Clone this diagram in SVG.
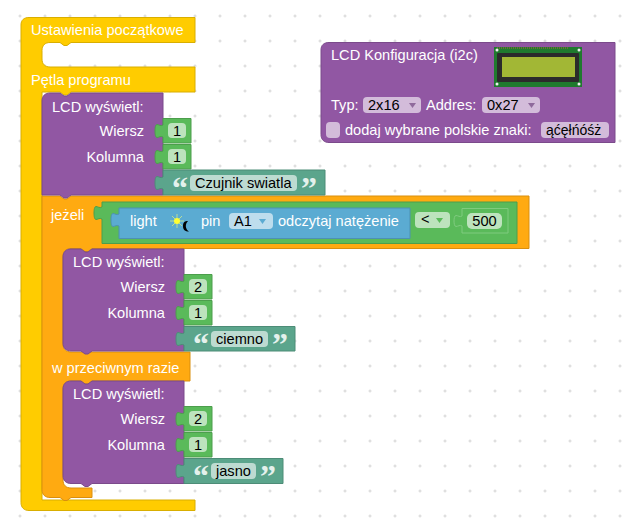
<svg xmlns="http://www.w3.org/2000/svg" width="629" height="524" viewBox="0 0 629 524">
<style>
text{font-family:"Liberation Sans",Arial,sans-serif;font-size:14.6px}
.w{fill:#fff}.k{fill:#000}.e{text-anchor:end}.m{text-anchor:middle}
.yl{fill:#fc0;stroke:#d9ae00;stroke-width:1}
.or{fill:#fa1;stroke:#d98f0e;stroke-width:1}
.pu{fill:#9157a3;stroke:#7b4a8b;stroke-width:1}
.gr{fill:#5aba5a;stroke:#4c9e4c;stroke-width:1}
.tl{fill:#5ba58c;stroke:#4d8c77;stroke-width:1}
.bl{fill:#5babd2;stroke:#4d91b3;stroke-width:1}
.f1{fill:#bde3bd}.f2{fill:#bddbd1}.f3{fill:#bddded}.f4{fill:#d3bcda}
.q{font-family:"Liberation Serif",serif;font-size:32px;font-weight:bold;fill:#e4f1ec}
.ar{fill:#8f6a9c}
.d{stroke:#d4d4d4;stroke-width:1;fill:none}
</style>
<defs>
<pattern id="grid" x="17.5" y="13.5" width="25" height="25" patternUnits="userSpaceOnUse">
<path class="d" d="M1 2.500h3M2.500 1v3"/>
</pattern>
</defs>
<rect width="629" height="524" fill="#fff"/>
<rect width="629" height="524" fill="url(#grid)"/>

<g id="connectors"/>

<g id="setup-loop">
<path class="yl" d="M29 17.500H195V42.500H71l-4 3h-3l-4-3H50c-5 0-8 3-8 8V59c0 5 3 8 8 8H195V92H71l-4 3h-3l-4-3H42V500H195V510.500H29c-5 0-8-3-8-8V25c0-5 3-7.500 8-7.500z"/>
<text class="w" x="31" y="35">Ustawienia początkowe</text>
<text class="w" x="31" y="85">Pętla programu</text>
</g>

<g id="if-else">
<path class="or" d="M42 196H60l4 3h3l4-3H529V248.500H92l-4 3h-3l-4-3H71c-5 0-8 3-8 8V344c0 5 3 8 8 8H190V381H92l-4 3h-3l-4-3H71c-5 0-8 3-8 8V480c0 5 3 8 8 8H92V497.500H71l-4 3h-3l-4-3H50c-5 0-8-3-8-8z"/>
<text class="w" x="51" y="220">jeżeli</text>
<text class="w" x="52" y="373">w przeciwnym razie</text>
</g>

<g id="compare">
<path class="gr" d="M102 202H517V243.500H102V219c-2.500-1.500-4 .5-6 .5c-1.500 0-2-3-2-6.500s.5-6.500 2-6.500c2 0 3.500 2 6 .5z" transform="translate(0 0)"/>
<path d="M462 208.500H508V233H462V226c-2-1.500-4 .5-6 .5c-1.500 0-2-3-2-5.500s.5-5.500 2-5.500c2 0 4 2 6 .5z" fill="#5aba5a" stroke="#7fcb7f" stroke-width="1"/>
<rect class="f1" x="415" y="212" width="35" height="16" rx="4"/>
<text class="k" x="421" y="224">&lt;</text>
<path d="M436 218h7l-3.500 5z" fill="#5aba5a"/>
<rect class="f1" x="467" y="213" width="35" height="16" rx="5"/>
<text class="k m" x="484.500" y="226">500</text>
</g>

<g id="light-sensor">
<path class="bl" d="M119 208H410V238.500H119V226c-2.500-1.500-4 .5-6 .5c-1.500 0-2-3-2-6.500s.5-6.500 2-6.500c2 0 3.500 2 6 .5z"/>
<text class="w" x="130" y="226">light</text>
<path d="M177 214v14M170 221h14M172 216l10 10M182 216l-10 10" stroke="#b6dc9a" stroke-width="1" fill="none"/>
<circle cx="177" cy="221" r="3" fill="#ff3"/>
<path d="M188 221c-3 3-3 8 1 10.500c-4 0-6-1.500-6-5.500s2-5 5-5z" fill="#000"/>
<text class="w" x="201" y="226">pin</text>
<rect class="f3" x="229" y="213" width="44" height="16" rx="4"/>
<text class="k" x="234" y="226">A1</text>
<path d="M259 219h7l-3.500 5z" fill="#5babd2"/>
<text class="w" x="278" y="226">odczytaj natężenie</text>
</g>

<g id="lcd1">
<path class="pu" d="M50 93H60l4 3h3l4-3H163V195H71l-4 3h-3l-4-3H42V101c0-5 3-8 8-8z"/>
<text class="w" x="52" y="112">LCD wyświetl:</text>
<text class="w e" x="144" y="136">Wiersz</text>
<text class="w e" x="144" y="162">Kolumna</text>
</g>
<g id="lcd1-row">
<path class="gr" d="M163 118.500H191V143H163V137c-2.500-1.500-4 .5-6 .5c-1.500 0-2-3-2-6.500s.5-6.500 2-6.500c2 0 3.500 2 6 .5z"/>
<rect class="f1" x="168" y="123" width="18" height="15" rx="4"/>
<text class="k m" x="177" y="136">1</text>
</g>
<g id="lcd1-col">
<path class="gr" d="M163 144.500H191V169H163V163c-2.500-1.500-4 .5-6 .5c-1.500 0-2-3-2-6.500s.5-6.500 2-6.500c2 0 3.500 2 6 .5z"/>
<rect class="f1" x="168" y="149" width="18" height="15" rx="4"/>
<text class="k m" x="177" y="162">1</text>
</g>
<g id="lcd1-text">
<path class="tl" d="M163 170H325V195H163V189c-2.500-1.500-4 .5-6 .5c-1.500 0-2-3-2-6.500s.5-6.500 2-6.500c2 0 3.500 2 6 .5z"/>
<text class="q" x="172" y="199">“</text>
<rect class="f2" x="190" y="175" width="107" height="16" rx="4"/>
<text class="k" x="195" y="188">Czujnik swiatla</text>
<text class="q" x="301" y="199">”</text>
</g>

<g id="lcd2">
<path class="pu" d="M71 249H81l4 3h3l4-3H184V351H92l-4 3h-3l-4-3H71c-5 0-8-3-8-8V257c0-5 3-8 8-8z"/>
<text class="w" x="73" y="267">LCD wyświetl:</text>
<text class="w e" x="165" y="292">Wiersz</text>
<text class="w e" x="165" y="318">Kolumna</text>
</g>
<g id="lcd2-row">
<path class="gr" d="M184 274.500H212V299H184V293c-2.500-1.500-4 .5-6 .5c-1.500 0-2-3-2-6.500s.5-6.500 2-6.500c2 0 3.500 2 6 .5z"/>
<rect class="f1" x="189" y="279" width="18" height="15" rx="4"/>
<text class="k m" x="198" y="292">2</text>
</g>
<g id="lcd2-col">
<path class="gr" d="M184 300.500H212V325H184V319c-2.500-1.500-4 .5-6 .5c-1.500 0-2-3-2-6.500s.5-6.500 2-6.500c2 0 3.500 2 6 .5z"/>
<rect class="f1" x="189" y="305" width="18" height="15" rx="4"/>
<text class="k m" x="198" y="318">1</text>
</g>
<g id="lcd2-text">
<path class="tl" d="M184 326.500H295V351H184V345c-2.500-1.500-4 .5-6 .5c-1.500 0-2-3-2-6.500s.5-6.500 2-6.500c2 0 3.500 2 6 .5z"/>
<text class="q" x="193" y="355">“</text>
<rect class="f2" x="211" y="331" width="57" height="16" rx="4"/>
<text class="k" x="216" y="344">ciemno</text>
<text class="q" x="272" y="355">”</text>
</g>

<g id="lcd3">
<path class="pu" d="M71 381H81l4 3h3l4-3H184V483.500H92l-4 3h-3l-4-3H71c-5 0-8-3-8-8V389c0-5 3-8 8-8z"/>
<text class="w" x="73" y="399">LCD wyświetl:</text>
<text class="w e" x="165" y="424">Wiersz</text>
<text class="w e" x="165" y="450">Kolumna</text>
</g>
<g id="lcd3-row">
<path class="gr" d="M184 406.500H212V431H184V425c-2.500-1.500-4 .5-6 .5c-1.500 0-2-3-2-6.500s.5-6.500 2-6.500c2 0 3.500 2 6 .5z"/>
<rect class="f1" x="189" y="411" width="18" height="15" rx="4"/>
<text class="k m" x="198" y="424">2</text>
</g>
<g id="lcd3-col">
<path class="gr" d="M184 432.500H212V457H184V451c-2.500-1.500-4 .5-6 .5c-1.500 0-2-3-2-6.500s.5-6.500 2-6.500c2 0 3.500 2 6 .5z"/>
<rect class="f1" x="189" y="437" width="18" height="15" rx="4"/>
<text class="k m" x="198" y="450">1</text>
</g>
<g id="lcd3-text">
<path class="tl" d="M184 458.500H283V483.500H184V477c-2.500-1.500-4 .5-6 .5c-1.500 0-2-3-2-6.500s.5-6.500 2-6.500c2 0 3.500 2 6 .5z"/>
<text class="q" x="193" y="487">“</text>
<rect class="f2" x="211" y="463" width="45" height="16" rx="4"/>
<text class="k" x="216" y="476">jasno</text>
<text class="q" x="260" y="487">”</text>
</g>

<g id="lcd-config">
<path class="pu" d="M329 42.500H615V142.500H329c-5 0-8-3-8-8V50c0-5 3-7.500 8-7.500z"/>
<text class="w" x="331" y="60">LCD Konfiguracja (i2c)</text>
<rect x="494" y="47" width="88" height="40" fill="#1f7a2e"/>
<rect x="497" y="53" width="82" height="29" rx="1" fill="#2b2b2b"/>
<rect x="502" y="57" width="73" height="20" fill="#a2b735"/>
<path d="M497 48h72" stroke="#b5653a" stroke-width="1" stroke-dasharray="1 1"/>
<g fill="#eee"><circle cx="497" cy="50" r="1.500"/><circle cx="579" cy="50" r="1.500"/><circle cx="497" cy="84" r="1.500"/><circle cx="579" cy="84" r="1.500"/></g>
<text class="w" x="331" y="110">Typ:</text>
<rect class="f4" x="363" y="97" width="58" height="16" rx="4"/>
<text class="k" x="368" y="110">2x16</text>
<path class="ar" d="M409 103h7l-3.500 5z"/>
<text class="w" x="426" y="110">Addres:</text>
<rect class="f4" x="482" y="97" width="58" height="16" rx="4"/>
<text class="k" x="487" y="110">0x27</text>
<path class="ar" d="M528 103h7l-3.500 5z"/>
<rect class="f4" x="326" y="122" width="14" height="16" rx="4"/>
<text class="w" x="345" y="135">dodaj wybrane polskie znaki:</text>
<rect class="f4" x="541" y="122" width="68" height="16" rx="4"/>
<text class="k" x="546" y="135" style="font-size:14px">ąćęłńóśż</text>
</g>
</svg>
